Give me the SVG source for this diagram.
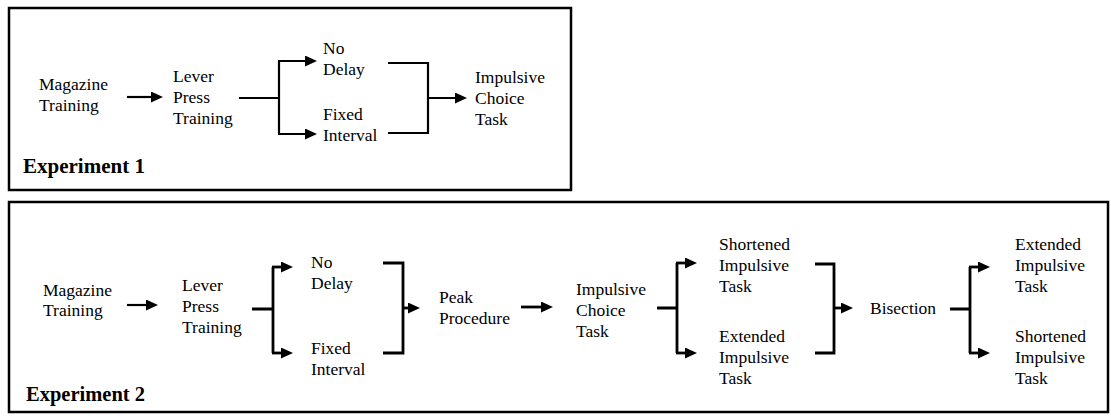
<svg xmlns="http://www.w3.org/2000/svg" width="1111" height="416" viewBox="0 0 1111 416">
<style>
text{font-family:'Liberation Serif','DejaVu Serif',serif;font-size:17.5px;fill:#000}
.lbl{font-weight:bold;font-size:21px}
.box{fill:none;stroke:#000;stroke-width:2.5}
.c{fill:none;stroke:#000;stroke-width:2.2}
.c2{fill:none;stroke:#000;stroke-width:2.8}
.a{marker-end:url(#ah)}
</style>
<defs>
<marker id="ah" markerUnits="userSpaceOnUse" markerWidth="12" markerHeight="11" refX="6" refY="5.5" orient="auto">
<path d="M0,0 L12,5.5 L0,11 z" fill="#000"/>
</marker>
</defs>
<rect fill="#fff" width="1111" height="416"/>
<rect class="box" x="9" y="8" width="562" height="182"/>
<rect class="box" x="9" y="202" width="1099" height="210"/>

<g font-family="Liberation Serif, serif">
<g id="exp1-label"><text class="lbl" x="23" y="173">Experiment 1</text></g>
<g id="mag1"><text x="39" y="90">Magazine</text><text x="39" y="110.5">Training</text></g>
<g id="lever1"><text x="173" y="82">Lever</text><text x="173" y="103">Press</text><text x="173" y="124">Training</text></g>
<g id="nodelay1"><text x="323" y="54">No</text><text x="323" y="75">Delay</text></g>
<g id="fixed1"><text x="323" y="120">Fixed</text><text x="323" y="141">Interval</text></g>
<g id="choice1"><text x="475" y="83">Impulsive</text><text x="475" y="104">Choice</text><text x="475" y="125">Task</text></g>

<g id="exp2-label"><text class="lbl" x="26" y="401" style="font-size:20.5px">Experiment 2</text></g>
<g id="mag2"><text x="43" y="296">Magazine</text><text x="43" y="316">Training</text></g>
<g id="lever2"><text x="182" y="290.5">Lever</text><text x="182" y="311.5">Press</text><text x="182" y="332.5">Training</text></g>
<g id="nodelay2"><text x="311" y="268">No</text><text x="311" y="289">Delay</text></g>
<g id="fixed2"><text x="311" y="353.5">Fixed</text><text x="311" y="374.5">Interval</text></g>
<g id="peak"><text x="439" y="303">Peak</text><text x="439" y="324">Procedure</text></g>
<g id="choice2"><text x="576" y="294.5">Impulsive</text><text x="576" y="315.5">Choice</text><text x="576" y="336.5">Task</text></g>
<g id="short1"><text x="719" y="249.5">Shortened</text><text x="719" y="270.5">Impulsive</text><text x="719" y="291.5">Task</text></g>
<g id="ext1"><text x="719" y="342">Extended</text><text x="719" y="363">Impulsive</text><text x="719" y="384">Task</text></g>
<g id="bisection"><text x="870" y="313.5">Bisection</text></g>
<g id="ext2"><text x="1015" y="249.5">Extended</text><text x="1015" y="270.5">Impulsive</text><text x="1015" y="291.5">Task</text></g>
<g id="short2"><text x="1015" y="342">Shortened</text><text x="1015" y="363">Impulsive</text><text x="1015" y="384">Task</text></g>
</g>

<g id="connectors">
<path class="c a" d="M127,97 H157"/>
<path class="c" d="M239,98 H279 M279,61 V134"/>
<path class="c a" d="M278,61 H311"/>
<path class="c a" d="M278,134 H311"/>
<path class="c" d="M388,63 H428 V133 H388"/>
<path class="c a" d="M428,98 H461"/>

<path class="c a" d="M127,305 H152"/>
<path class="c2" d="M252,309 H273 M273,267 V353"/>
<path class="c2 a" d="M272,267 H287"/>
<path class="c2 a" d="M272,353 H287"/>
<path class="c2" d="M383,263 H403 V353 H383"/>
<path class="c2 a" d="M403,308 H414"/>
<path class="c2 a" d="M521,307 H547"/>
<path class="c2" d="M657,308 H677 M677,263 V353"/>
<path class="c2 a" d="M676,263 H691"/>
<path class="c2 a" d="M676,353 H691"/>
<path class="c2" d="M815,264 H834 V353 H815"/>
<path class="c2 a" d="M834,308 H847"/>
<path class="c2" d="M950,309 H970 M970,267 V353"/>
<path class="c2 a" d="M969,267 H984"/>
<path class="c2 a" d="M969,353 H984"/>
</g>
</svg>
